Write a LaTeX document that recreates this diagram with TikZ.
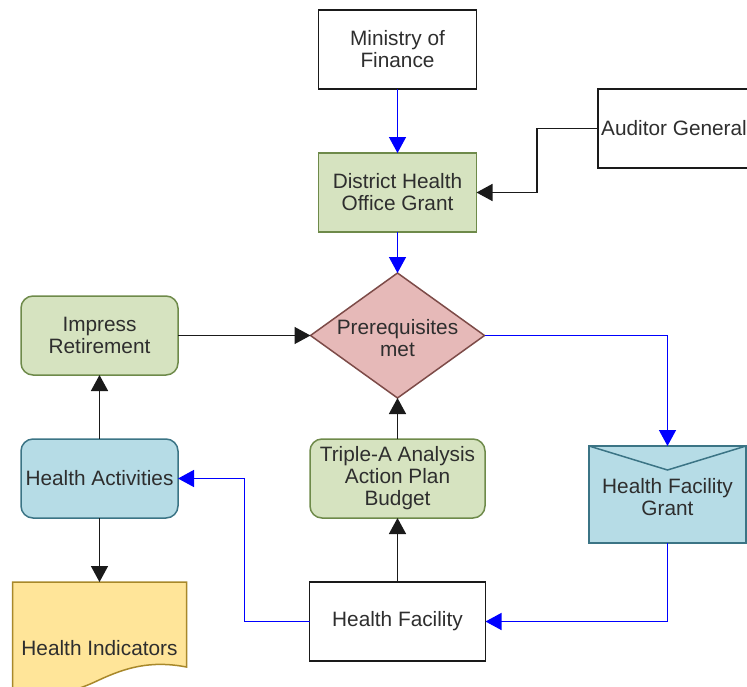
\documentclass[tikz,border=0pt]{standalone}
\usepackage{fontspec}
\setmainfont{Liberation Sans}
\usetikzlibrary{shapes.geometric,arrows.meta,calc}
\definecolor{greenfill}{HTML}{D6E3C0}
\definecolor{greenline}{HTML}{6E8A4A}
\definecolor{bluefill}{HTML}{B6DCE6}
\definecolor{blueline}{HTML}{3B7485}
\definecolor{pinkfill}{HTML}{E6B9B8}
\definecolor{pinkline}{HTML}{7D4B48}
\definecolor{yellowfill}{HTML}{FFE599}
\definecolor{yellowline}{HTML}{A8882A}
\definecolor{txt}{HTML}{2E2E2E}
\definecolor{lineblk}{HTML}{1A1A1A}
\definecolor{bline}{HTML}{0000FF}
\tikzset{
  base/.style={inner sep=0pt, outer sep=0pt, line width=1.5pt, align=center, text=txt,
    font=\fontsize{20.8}{22}\selectfont},
  plainbox/.style={base, draw=lineblk, fill=white, rectangle},
  greenbox/.style={base, draw=greenline, fill=greenfill, rectangle},
  greenround/.style={base, draw=greenline, fill=greenfill, rectangle, rounded corners=12pt},
  blueround/.style={base, draw=blueline, fill=bluefill, rectangle, rounded corners=12pt},
  bluebox/.style={base, draw=blueline, fill=bluefill, rectangle},
  blk/.style={line width=1.5pt, draw=lineblk, -{Triangle[length=16pt,width=17pt]}},
  blu/.style={line width=1.4pt, draw=bline, -{Triangle[length=16pt,width=17pt]}},
}
\begin{document}
\begin{tikzpicture}[x=1pt,y=-1pt]
\useasboundingbox (0,0) rectangle (747,686);
\clip (0,0) rectangle (747,686);
\node[plainbox, minimum width=158pt, minimum height=79pt] (mof) at (397.5,49.5) {Ministry of\\Finance};
\node[plainbox, minimum width=152pt, minimum height=79pt] (ag) at (674,128.5) {Auditor General};
\node[greenbox, minimum width=158pt, minimum height=79pt] (dho) at (397.5,192.5) {District Health\\Office Grant};
\node[base, diamond, aspect=1.392, draw=pinkline, fill=pinkfill, minimum width=174pt, minimum height=125pt] (pre) at (397.5,335.5) {};
\node[base] (pretxt) at (397.5,338) {Prerequisites\\met};
\node[greenround, minimum width=157pt, minimum height=79pt] (imp) at (99.5,335.5) {Impress\\Retirement};
\node[blueround, minimum width=157pt, minimum height=79pt] (ha) at (99.5,478.5) {Health Activities};
\node[greenround, minimum width=175pt, minimum height=79pt] (tri) at (397.5,478.5) {Triple-A Analysis\\Action Plan\\Budget};
\node[bluebox, minimum width=157pt, minimum height=97pt] (hfg) at (667.5,494.5) {};
\draw[line width=1.5pt, draw=blueline] (hfg.north west) -- ($(hfg.north)+(0,24)$) -- (hfg.north east);
\node[base] (hfgtxt) at (667.5,497) {Health Facility\\Grant};
\node[plainbox, minimum width=176pt, minimum height=79pt] (hf) at (397.5,621.5) {Health Facility};
% Health Indicators document shape
\node[base, minimum width=174pt, minimum height=104pt] (hi) at (99.5,634) {};
\draw[line width=1.5pt, draw=yellowline, fill=yellowfill]
  (hi.north west) -- (hi.north east) -- (186.5,667)
  .. controls (150,660) and (125,668) .. (99,680)
  .. controls (70,694) and (40,700) .. (12.5,696) -- cycle;
\node[base] (hitxt) at (99.5,648) {Health Indicators};
% connectors
\draw[blu] (mof.south) -- (dho.north);
\draw[blk] (ag.west) -- ++(-61,0) |- (dho.east);
\draw[blu] (dho.south) -- (pre.north);
\draw[blk] (imp.east) -- (pre.west);
\draw[blu] (pre.east) -| (hfg.north);
\draw[blu] (hfg.south) |- (hf.east);
\draw[blk] (hf.north) -- (tri.south);
\draw[blk] (tri.north) -- (pre.south);
\draw[blu] (hf.west) -- ++(-65,0) |- (ha.east);
\draw[blk] (ha.north) -- (imp.south);
\draw[blk] (ha.south) -- (hi.north);
\end{tikzpicture}
\end{document}
